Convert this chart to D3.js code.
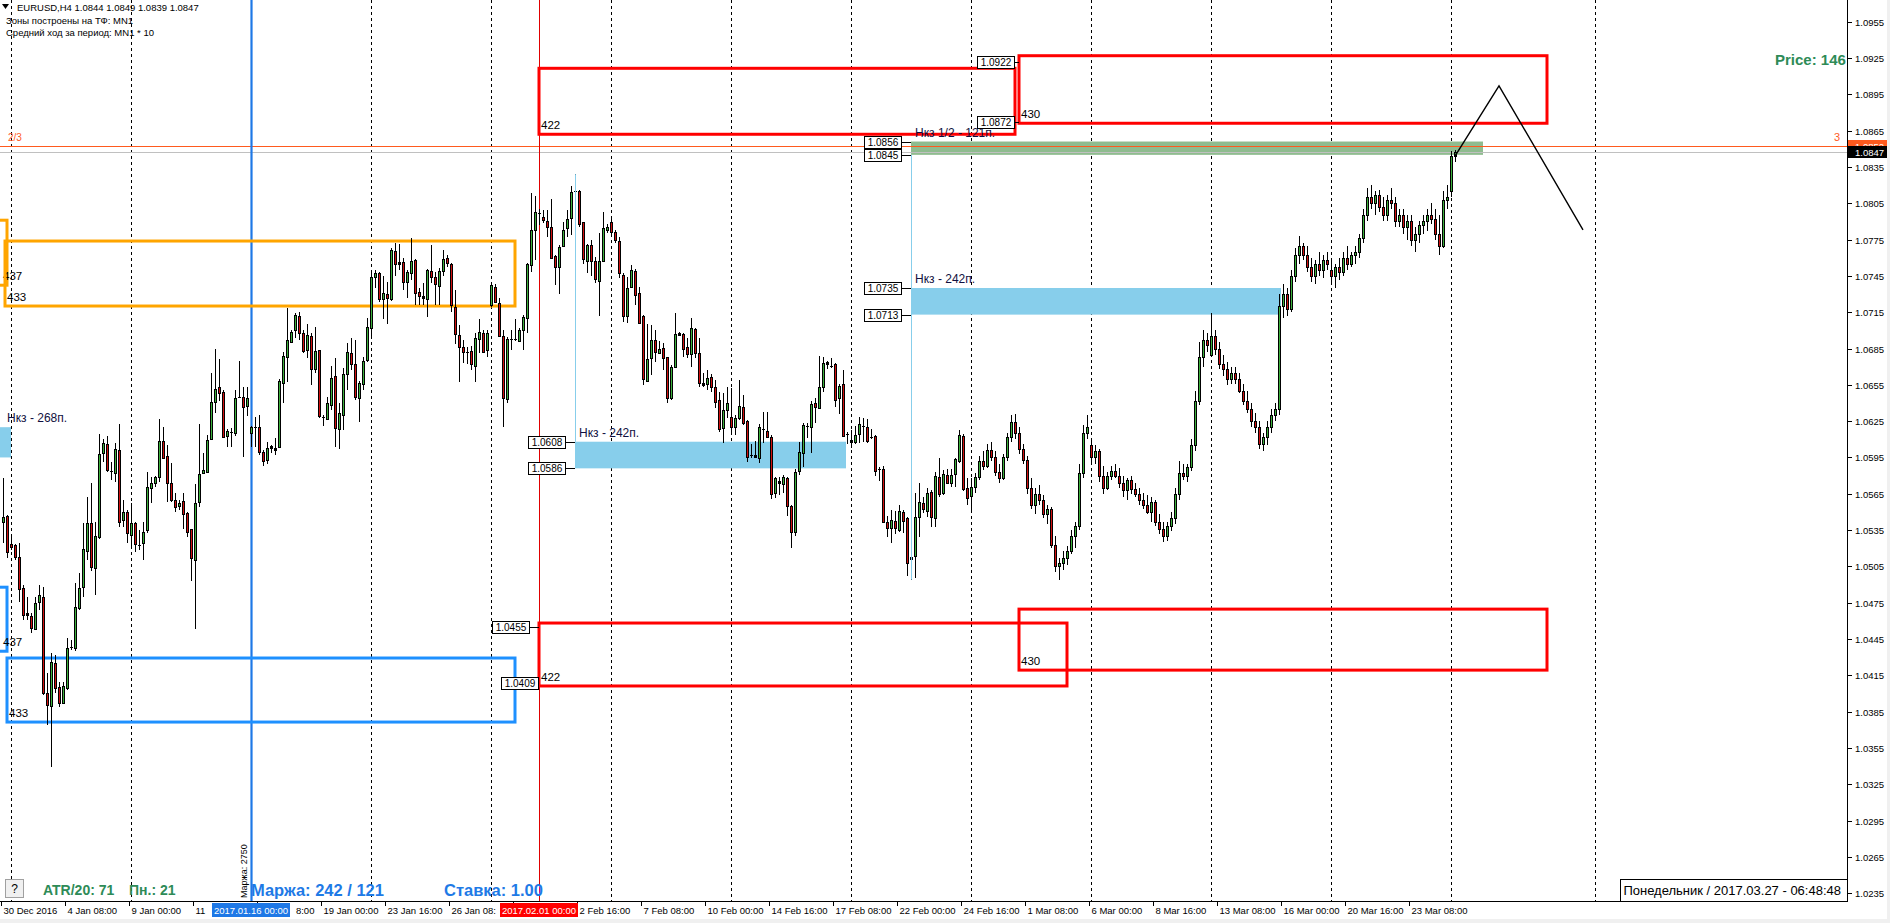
<!DOCTYPE html>
<html><head><meta charset="utf-8">
<script src="https://cdn.jsdelivr.net/npm/d3@7"></script>
<style>
body{margin:0;background:#fff;overflow:hidden}
text{font-family:"Liberation Sans",Arial,sans-serif}
</style>
</head><body>
<svg id="c" width="1890" height="923"></svg>
<script>
// ---------- DATA ----------
// H4 bars [open, high, low, close], bar 0 = 30 Dec 2016 16:00
const ohlc = [
[1.05420,1.05778,1.05240,1.05455],[1.05466,1.05475,1.05117,1.05172],[1.05232,1.05296,1.05185,1.05213],[1.05227,1.05235,1.05103,1.05130],
[1.05125,1.05240,1.04759,1.04860],[1.04869,1.04896,1.04607,1.04648],[1.04662,1.04800,1.04607,1.04648],[1.04640,1.04662,1.04497,1.04538],
[1.04530,1.04800,1.04524,1.04750],[1.04759,1.04896,1.04690,1.04811],[1.04800,1.04883,1.03988,1.04007],[1.04001,1.04167,1.03740,1.03905],
[1.03899,1.04337,1.03395,1.04263],[1.04255,1.04318,1.04001,1.04043],[1.04051,1.04098,1.03886,1.03924],[1.03919,1.04098,1.03913,1.04062],
[1.04048,1.04456,1.04029,1.04373],[1.04381,1.04442,1.04359,1.04385],[1.04373,1.04910,1.04354,1.04712],[1.04704,1.04993,1.04690,1.04869],
[1.04883,1.05406,1.04800,1.05191],[1.05180,1.05626,1.05103,1.05406],[1.05411,1.05742,1.05015,1.05042],[1.05034,1.05420,1.04814,1.05304],
[1.05290,1.06144,1.05274,1.05976],[1.05984,1.06100,1.05915,1.06067],[1.06058,1.06127,1.05833,1.05846],[1.05836,1.05915,1.05764,1.05830],
[1.05824,1.06067,1.05750,1.06017],[1.06012,1.06224,1.05378,1.05420],[1.05433,1.05599,1.05378,1.05497],[1.05502,1.05516,1.05240,1.05323],
[1.05309,1.05571,1.05199,1.05411],[1.05411,1.05420,1.05172,1.05235],[1.05227,1.05350,1.05185,1.05230],[1.05240,1.05420,1.05103,1.05337],
[1.05350,1.05833,1.05329,1.05703],[1.05695,1.05791,1.05571,1.05736],[1.05742,1.05797,1.05709,1.05786],[1.05791,1.06265,1.05750,1.06089],
[1.06086,1.06199,1.05935,1.05948],[1.05962,1.06053,1.05585,1.05742],[1.05736,1.05901,1.05585,1.05599],[1.05599,1.05654,1.05502,1.05543],
[1.05552,1.05599,1.05516,1.05577],[1.05593,1.05654,1.05356,1.05480],[1.05494,1.05502,1.05296,1.05337],[1.05356,1.05356,1.04932,1.05117],
[1.05103,1.05731,1.04530,1.05571],[1.05585,1.06226,1.05543,1.05813],[1.05824,1.05984,1.05813,1.05846],[1.05833,1.06136,1.05819,1.06094],
[1.06100,1.06650,1.06094,1.06411],[1.06411,1.06843,1.06315,1.06513],[1.06529,1.06761,1.06419,1.06480],[1.06491,1.06507,1.06108,1.06122],
[1.06127,1.06182,1.06039,1.06171],[1.06163,1.06191,1.06034,1.06163],[1.06155,1.06507,1.06127,1.06438],[1.06447,1.06747,1.06438,1.06447],
[1.06452,1.06529,1.05951,1.06364],[1.06375,1.06529,1.06292,1.06438],[1.06149,1.06210,1.06039,1.06199],[1.06204,1.06287,1.06039,1.06200],
[1.06199,1.06301,1.05970,1.05998],[1.05998,1.06010,1.05880,1.05920],[1.05930,1.06080,1.05900,1.06025],[1.06025,1.06053,1.05990,1.06044],
[1.06011,1.06108,1.05970,1.06025],[1.06033,1.06595,1.06025,1.06584],[1.06562,1.06824,1.06397,1.06788],[1.06777,1.07182,1.06576,1.06920],
[1.06907,1.07003,1.06893,1.06984],[1.07003,1.07141,1.06934,1.07127],[1.07119,1.07154,1.06920,1.06981],[1.06975,1.07003,1.06810,1.06832],
[1.06838,1.07052,1.06769,1.06962],[1.06956,1.06975,1.06549,1.06678],[1.06678,1.07030,1.06645,1.06829],[1.06835,1.06838,1.06273,1.06292],
[1.06281,1.06301,1.06210,1.06273],[1.06265,1.06452,1.06259,1.06397],[1.06383,1.06706,1.06342,1.06604],[1.06623,1.06769,1.06039,1.06196],
[1.06182,1.06397,1.06017,1.06314],[1.06301,1.06686,1.06177,1.06640],[1.06640,1.06893,1.06507,1.06818],[1.06810,1.06934,1.06672,1.06722],
[1.06722,1.06920,1.06425,1.06452],[1.06444,1.06584,1.06246,1.06568],[1.06554,1.06783,1.06507,1.06747],[1.06755,1.07099,1.06741,1.07025],
[1.07017,1.07485,1.06934,1.07444],[1.07444,1.07499,1.07347,1.07477],[1.07471,1.07485,1.07237,1.07262],[1.07256,1.07449,1.07091,1.07306],
[1.07298,1.07402,1.07052,1.07265],[1.07256,1.07678,1.07245,1.07664],[1.07656,1.07725,1.07449,1.07545],[1.07565,1.07714,1.07499,1.07545],
[1.07562,1.07595,1.07333,1.07397],[1.07402,1.07499,1.07265,1.07479],[1.07471,1.07760,1.07416,1.07573],[1.07581,1.07587,1.07210,1.07306],
[1.07317,1.07347,1.07210,1.07284],[1.07284,1.07388,1.07210,1.07265],[1.07256,1.07504,1.07108,1.07499],[1.07490,1.07705,1.07388,1.07444],
[1.07444,1.07485,1.07210,1.07380],[1.07369,1.07518,1.07210,1.07490],[1.07493,1.07664,1.07449,1.07587],[1.07595,1.07623,1.07526,1.07559],
[1.07545,1.07554,1.07154,1.07210],[1.07196,1.07333,1.06887,1.06967],[1.06962,1.07044,1.06576,1.06865],[1.06860,1.06920,1.06728,1.06818],
[1.06818,1.06865,1.06722,1.06815],[1.06829,1.06871,1.06672,1.06719],[1.06706,1.06975,1.06576,1.06934],[1.06926,1.07091,1.06810,1.06984],
[1.06975,1.07003,1.06810,1.06824],[1.06838,1.07003,1.06783,1.06975],[1.07210,1.07388,1.07196,1.07375],[1.07361,1.07383,1.07223,1.07237],
[1.07229,1.07265,1.06948,1.06956],[1.06953,1.07003,1.06199,1.06438],[1.06430,1.06948,1.06397,1.06926],[1.06929,1.07003,1.06838,1.06929],
[1.06929,1.07091,1.06915,1.06929],[1.06912,1.07017,1.06907,1.07003],[1.07003,1.07127,1.06838,1.07113],[1.07099,1.07554,1.06981,1.07545],
[1.07540,1.08132,1.07485,1.07829],[1.07829,1.08110,1.07581,1.07981],[1.07967,1.08000,1.07870,1.07961],[1.07939,1.07994,1.07884,1.07912],
[1.07903,1.07994,1.07774,1.07851],[1.07857,1.08082,1.07587,1.07595],[1.07614,1.07623,1.07375,1.07526],[1.07521,1.07705,1.07300,1.07686],
[1.07697,1.07898,1.07697,1.07829],[1.07843,1.07994,1.07774,1.07917],[1.07925,1.08193,1.07788,1.08146],[1.08154,1.08292,1.08138,1.08150],
[1.08151,1.08160,1.07857,1.07876],[1.07892,1.07898,1.07548,1.07587],[1.07576,1.07714,1.07471,1.07705],[1.07705,1.07747,1.07449,1.07576],
[1.07573,1.07603,1.07388,1.07422],[1.07411,1.07802,1.07121,1.07573],[1.07573,1.07981,1.07567,1.07843],[1.07829,1.07879,1.07802,1.07851],
[1.07898,1.07925,1.07788,1.07815],[1.07810,1.07829,1.07725,1.07747],[1.07738,1.07774,1.07430,1.07471],[1.07457,1.07471,1.07072,1.07121],
[1.07119,1.07444,1.07058,1.07347],[1.07355,1.07540,1.07347,1.07499],[1.07490,1.07504,1.07210,1.07292],[1.07306,1.07361,1.07052,1.07058],
[1.07121,1.07127,1.06549,1.06595],[1.06584,1.07052,1.06576,1.06761],[1.06769,1.07044,1.06631,1.06920],[1.06920,1.07003,1.06741,1.06824],
[1.06816,1.06915,1.06810,1.06843],[1.06851,1.06893,1.06672,1.06769],[1.06777,1.06783,1.06403,1.06438],[1.06438,1.06714,1.06425,1.06695],
[1.06700,1.07141,1.06686,1.06970],[1.06962,1.06989,1.06956,1.06981],[1.06970,1.06981,1.06783,1.06846],[1.06860,1.06934,1.06769,1.06805],
[1.06802,1.07099,1.06700,1.07017],[1.07008,1.07017,1.06769,1.06810],[1.06816,1.06934,1.06535,1.06562],[1.06562,1.06645,1.06535,1.06549],
[1.06557,1.06672,1.06507,1.06604],[1.06617,1.06640,1.06494,1.06535],[1.06535,1.06590,1.06356,1.06411],[1.06425,1.06494,1.06163,1.06182],
[1.06191,1.06480,1.06072,1.06342],[1.06342,1.06529,1.06273,1.06397],[1.06287,1.06521,1.06149,1.06204],[1.06199,1.06301,1.06135,1.06273],
[1.06279,1.06590,1.06259,1.06375],[1.06364,1.06466,1.06218,1.06232],[1.06251,1.06259,1.05915,1.05951],[1.05970,1.06061,1.05943,1.05965],
[1.05970,1.06089,1.05943,1.05951],[1.05943,1.06226,1.05901,1.06199],[1.06182,1.06328,1.06067,1.06177],[1.06169,1.06328,1.06108,1.06122],
[1.06122,1.06135,1.05604,1.05645],[1.05654,1.05791,1.05612,1.05778],[1.05758,1.05791,1.05640,1.05736],[1.05731,1.05805,1.05654,1.05786],
[1.05778,1.05791,1.05466,1.05552],[1.05549,1.05557,1.05199,1.05331],[1.05337,1.05852,1.05304,1.05832],[1.05841,1.06080,1.05805,1.05992],
[1.05984,1.06237,1.05874,1.06218],[1.06204,1.06237,1.06108,1.06210],[1.06199,1.06419,1.05989,1.06389],[1.06397,1.06438,1.06232,1.06364],
[1.06356,1.06788,1.06347,1.06529],[1.06535,1.06783,1.06493,1.06727],[1.06719,1.06750,1.06678,1.06736],[1.06705,1.06769,1.06686,1.06705],
[1.06719,1.06733,1.06364,1.06425],[1.06438,1.06557,1.06309,1.06543],[1.06554,1.06672,1.06122,1.06130],[1.06141,1.06163,1.06061,1.06135],
[1.06075,1.06177,1.06025,1.06094],[1.06080,1.06210,1.06061,1.06135],[1.06141,1.06287,1.06067,1.06224],[1.06210,1.06273,1.06080,1.06204],
[1.06199,1.06265,1.06072,1.06089],[1.06116,1.06182,1.06100,1.06111],[1.06127,1.06135,1.05800,1.05841],[1.05852,1.05874,1.05758,1.05846],
[1.05852,1.05882,1.05411,1.05417],[1.05417,1.05466,1.05290,1.05364],[1.05370,1.05516,1.05246,1.05433],[1.05425,1.05510,1.05318,1.05364],
[1.05351,1.05557,1.05337,1.05508],[1.05496,1.05516,1.05323,1.05428],[1.05447,1.05461,1.04970,1.05081],[1.05125,1.05136,1.04938,1.05114],
[1.05138,1.05654,1.04951,1.05455],[1.05461,1.05736,1.05290,1.05585],[1.05571,1.05626,1.05494,1.05521],[1.05510,1.05695,1.05461,1.05659],
[1.05662,1.05681,1.05373,1.05461],[1.05452,1.05832,1.05373,1.05797],[1.05786,1.05943,1.05626,1.05648],[1.05659,1.05846,1.05640,1.05811],
[1.05805,1.05852,1.05731,1.05742],[1.05736,1.05852,1.05703,1.05805],[1.05811,1.05943,1.05703,1.05934],[1.05923,1.06177,1.05901,1.06135],
[1.06127,1.06144,1.05676,1.05687],[1.05695,1.05778,1.05557,1.05612],[1.05634,1.05778,1.05494,1.05703],
[1.05703,1.05820,1.05660,1.05790],[1.05790,1.05960,1.05760,1.05920],[1.05920,1.06000,1.05850,1.05880],[1.05880,1.06060,1.05860,1.06010],
[1.06010,1.06080,1.05920,1.05950],[1.05950,1.06000,1.05800,1.05830],[1.05830,1.05900,1.05740,1.05780],[1.05780,1.05980,1.05760,1.05950],
[1.05950,1.06150,1.05920,1.06120],[1.06120,1.06300,1.06080,1.06240],[1.06240,1.06310,1.06100,1.06150],[1.06150,1.06200,1.05980,1.06020],
[1.06020,1.06060,1.05900,1.05930],[1.05930,1.05960,1.05650,1.05700],[1.05700,1.05780,1.05520,1.05560],[1.05560,1.05700,1.05480,1.05650],
[1.05650,1.05720,1.05560,1.05600],[1.05600,1.05640,1.05450,1.05480],[1.05480,1.05560,1.05400,1.05520],[1.05520,1.05540,1.05200,1.05230],
[1.05230,1.05300,1.05000,1.05050],[1.05050,1.05120,1.04940,1.05080],[1.05080,1.05180,1.05020,1.05120],[1.05120,1.05220,1.05060,1.05180],
[1.05180,1.05350,1.05150,1.05300],[1.05300,1.05420,1.05200,1.05380],[1.05380,1.05900,1.05350,1.05820],[1.05820,1.06220,1.05780,1.06150],
[1.06150,1.06300,1.06100,1.06200],[1.06050,1.06100,1.05900,1.05950],[1.05950,1.06050,1.05900,1.06000],[1.06000,1.06020,1.05750,1.05800],
[1.05800,1.05880,1.05650,1.05700],[1.05700,1.05830,1.05680,1.05800],[1.05800,1.05880,1.05760,1.05840],[1.05840,1.05900,1.05780,1.05800],
[1.05800,1.05860,1.05700,1.05740],[1.05740,1.05800,1.05620,1.05680],[1.05680,1.05780,1.05600,1.05760],[1.05760,1.05800,1.05650,1.05690],
[1.05690,1.05740,1.05620,1.05650],[1.05650,1.05700,1.05560,1.05600],[1.05600,1.05660,1.05520,1.05560],[1.05560,1.05640,1.05480,1.05500],
[1.05500,1.05620,1.05420,1.05580],[1.05580,1.05600,1.05380,1.05420],[1.05420,1.05480,1.05320,1.05360],[1.05360,1.05420,1.05250,1.05300],
[1.05300,1.05420,1.05260,1.05380],[1.05380,1.05500,1.05340,1.05450],[1.05450,1.05700,1.05400,1.05650],[1.05650,1.05920,1.05600,1.05820],
[1.05820,1.05900,1.05760,1.05800],[1.05800,1.05900,1.05750,1.05870],[1.05870,1.06100,1.05840,1.06050],[1.06050,1.06500,1.06000,1.06420],
[1.06420,1.06900,1.06380,1.06780],[1.06780,1.07000,1.06700,1.06920],[1.06920,1.06980,1.06820,1.06880],[1.06800,1.07140,1.06780,1.06950],
[1.06950,1.07000,1.06800,1.06850],[1.06850,1.06900,1.06680,1.06720],[1.06720,1.06800,1.06620,1.06680],[1.06680,1.06740,1.06550,1.06600],
[1.06600,1.06700,1.06560,1.06650],[1.06650,1.06700,1.06560,1.06600],[1.06600,1.06650,1.06480,1.06500],[1.06500,1.06560,1.06380,1.06420],
[1.06420,1.06500,1.06320,1.06350],[1.06350,1.06400,1.06200,1.06250],[1.06250,1.06320,1.06150,1.06200],[1.06200,1.06250,1.06020,1.06060],
[1.06060,1.06150,1.06000,1.06120],[1.06120,1.06250,1.06050,1.06200],[1.06200,1.06350,1.06150,1.06300],[1.06300,1.06400,1.06250,1.06350],
[1.06350,1.07300,1.06300,1.07200],[1.07200,1.07380,1.07100,1.07300],[1.07300,1.07350,1.07120,1.07180],[1.07180,1.07500,1.07150,1.07450],
[1.07450,1.07680,1.07400,1.07620],[1.07620,1.07780,1.07550,1.07700],[1.07700,1.07720,1.07580,1.07620],[1.07620,1.07700,1.07480,1.07520],
[1.07520,1.07600,1.07400,1.07450],[1.07450,1.07580,1.07380,1.07550],[1.07550,1.07650,1.07450,1.07500],[1.07500,1.07620,1.07430,1.07580],
[1.07580,1.07650,1.07500,1.07550],[1.07500,1.07600,1.07400,1.07450],[1.07450,1.07550,1.07350,1.07520],[1.07520,1.07600,1.07420,1.07480],
[1.07480,1.07650,1.07450,1.07600],[1.07600,1.07700,1.07500,1.07550],[1.07550,1.07650,1.07520,1.07620],[1.07620,1.07700,1.07550,1.07650],
[1.07650,1.07800,1.07600,1.07760],[1.07760,1.08000,1.07720,1.07950],[1.07950,1.08180,1.07900,1.08100],[1.08100,1.08200,1.08000,1.08050],
[1.08050,1.08150,1.07950,1.08120],[1.08120,1.08160,1.07980,1.08020],[1.08020,1.08100,1.07900,1.07950],[1.07950,1.08120,1.07900,1.08080],
[1.08080,1.08180,1.08000,1.08050],[1.08050,1.08100,1.07850,1.07900],[1.07900,1.08000,1.07850,1.07950],[1.07950,1.08000,1.07800,1.07850],
[1.07850,1.07950,1.07750,1.07900],[1.07900,1.07950,1.07700,1.07750],[1.07750,1.07850,1.07650,1.07800],[1.07800,1.07900,1.07720,1.07870],
[1.07870,1.07950,1.07800,1.07900],[1.07900,1.08000,1.07820,1.07950],[1.07950,1.08050,1.07880,1.07920],[1.07920,1.08000,1.07750,1.07800],
[1.07800,1.07950,1.07620,1.07700],[1.07700,1.08150,1.07680,1.08080],[1.08080,1.08200,1.08000,1.08100],[1.08150,1.08480,1.08100,1.08440],
[1.08440,1.08490,1.08390,1.08470]
];
const timeLabels = ["30 Dec 2016","4 Jan 08:00","9 Jan 00:00","11 Jan 16:00","16 Jan 08:00","19 Jan 00:00","23 Jan 16:00",
 "26 Jan 08:00","31 Jan 00:00","2 Feb 16:00","7 Feb 08:00","10 Feb 00:00","14 Feb 16:00","17 Feb 08:00","22 Feb 00:00",
 "24 Feb 16:00","1 Mar 08:00","6 Mar 00:00","8 Mar 16:00","13 Mar 08:00","16 Mar 00:00","20 Mar 16:00","23 Mar 08:00"];
const barsPerLabel = 16;
const priceTicks = [1.0955,1.0925,1.0895,1.0865,1.0835,1.0805,1.0775,1.0745,1.0715,1.0685,1.0655,1.0625,1.0595,
 1.0565,1.0535,1.0505,1.0475,1.0445,1.0415,1.0385,1.0355,1.0325,1.0295,1.0265,1.0235];
const weekGridBars = [2,32,62,92,122,152,182,212,242,272,302,332,362,398];
const redZones = [
 {from:134,to:253,top:1.09165,bottom:1.08620,label:"422"},
 {from:254,to:386,top:1.09269,bottom:1.08711,label:"430"},
 {from:134,to:266,top:1.04582,bottom:1.04062,label:"422"},
 {from:254,to:386,top:1.04697,bottom:1.04193,label:"430"}];
const orangeZones = [{from:-6,to:1,top:1.0791,bottom:1.07373,label:"437"},{from:0.5,to:128,top:1.07738,bottom:1.07201,label:"433"}];
const blueZones = [{from:-6,to:1,top:1.04878,bottom:1.04349,label:"437"},{from:1,to:128,top:1.04293,bottom:1.03764,label:"433"}];
const skyBands = [
 {from:-6,to:2,top:1.0620,bottom:1.0595,text:"Нкз - 268п."},
 {from:143,to:210.75,top:1.0608,bottom:1.0586,text:"Нкз - 242п."},
 {from:227,to:319.5,top:1.0735,bottom:1.0713,text:"Нкз - 242п."}];
const greenBand = {from:227,to:370,top:1.0856,bottom:1.0845,text:"Нкз 1/2 - 121п."};
const zigzag = [[363,1.0844],[374,1.0902],[395,1.0783]];
const measureLines = [{bar:143,p1:1.0829,p2:1.0608},{bar:227,p1:1.0845,p2:1.0494}];
const levelLine = 1.08523, bid = 1.0847;
const blueLineBar = 62, redLineBar = 134;

// ---------- SCALES ----------
const W=1890,H=923, plotR=1847, plotB=901;
const y = d3.scaleLinear().domain([1.0235,1.0955]).range([893.2,21.7]);
const x = d3.scaleLinear().domain([0,1]).range([3,7]);
const svg = d3.select("#c");
svg.append("rect").attr("width",W).attr("height",H).attr("fill","#fff");
svg.append("defs").append("clipPath").attr("id","plot").append("rect").attr("x",0).attr("y",0).attr("width",plotR).attr("height",plotB);
const g = svg.append("g").attr("clip-path","url(#plot)");

g.selectAll(".vg").data(weekGridBars).enter().append("line")
 .attr("x1",d=>Math.round(x(d))+0.5).attr("x2",d=>Math.round(x(d))+0.5).attr("y1",0).attr("y2",plotB)
 .attr("stroke","#000").attr("stroke-dasharray","3,3").attr("stroke-width",1);

function band(b,color){
  g.append("rect").attr("x",x(b.from)).attr("y",y(b.top)).attr("width",x(b.to)-x(b.from)).attr("height",y(b.bottom)-y(b.top)).attr("fill",color);
}
skyBands.forEach(b=>band(b,"#87CEEB"));
band(greenBand,"#8FBC8F");

g.append("line").attr("x1",0).attr("x2",plotR).attr("y1",Math.round(y(levelLine))+0.5).attr("y2",Math.round(y(levelLine))+0.5).attr("stroke","#FF5A1E").attr("stroke-width",1);
g.append("line").attr("x1",0).attr("x2",plotR).attr("y1",Math.round(y(bid))+0.5).attr("y2",Math.round(y(bid))+0.5).attr("stroke","#C0C0C0").attr("stroke-width",1);

g.append("line").attr("x1",Math.round(x(blueLineBar))+0.5).attr("x2",Math.round(x(blueLineBar))+0.5).attr("y1",0).attr("y2",plotB).attr("stroke","#1E78E6").attr("stroke-width",2.2);
g.append("line").attr("x1",Math.round(x(redLineBar))+0.5).attr("x2",Math.round(x(redLineBar))+0.5).attr("y1",0).attr("y2",plotB).attr("stroke","#E00000").attr("stroke-width",1);

function zone(z,color){
  g.append("rect").attr("x",x(z.from)).attr("y",y(z.top)).attr("width",x(z.to)-x(z.from)).attr("height",y(z.bottom)-y(z.top))
   .attr("fill","none").attr("stroke",color).attr("stroke-width",3);
  g.append("text").attr("x",Math.max(x(z.from),1)+2).attr("y",y(z.bottom)-5).attr("font-size",11.5).attr("fill","#000").text(z.label);
}
orangeZones.forEach(z=>zone(z,"#FFA500"));
blueZones.forEach(z=>zone(z,"#1E90FF"));
redZones.forEach(z=>zone(z,"#FF0000"));

const cg = g.append("g");
ohlc.forEach((d,i)=>{
  const [o,h,l,c]=d; const cx=Math.round(x(i));
  cg.append("rect").attr("x",cx).attr("y",Math.round(y(h))).attr("width",1).attr("height",Math.max(1,Math.round(y(l))-Math.round(y(h)))).attr("fill","#000");
  const t=Math.round(y(Math.max(o,c))), b=Math.round(y(Math.min(o,c)));
  const hh=Math.max(1,b-t);
  cg.append("rect").attr("x",cx-1).attr("y",t).attr("width",3).attr("height",hh+(hh>1?1:0)).attr("fill","#000");
  if(hh>2) cg.append("rect").attr("x",cx).attr("y",t+1).attr("width",1).attr("height",hh-1).attr("fill",c>=o?"#3CB03C":"#D01010");
});

measureLines.forEach(m=>{
  g.append("line").attr("x1",Math.round(x(m.bar))+0.5).attr("x2",Math.round(x(m.bar))+0.5).attr("y1",y(m.p1)).attr("y2",y(m.p2)).attr("stroke","#87CEEB").attr("stroke-width",1);
});

function priceBox(px,pr,lineTo){
  const yy=Math.round(y(pr))+0.5;
  g.append("line").attr("x1",px+37).attr("x2",lineTo).attr("y1",yy).attr("y2",yy).attr("stroke","#000");
  g.append("rect").attr("x",px+0.5).attr("y",yy-6).attr("width",37).attr("height",12).attr("fill","#fff").attr("stroke","#000");
  g.append("text").attr("x",px+19).attr("y",yy+3.5).attr("text-anchor","middle").attr("font-size",10).text(pr.toFixed(4));
}
skyBands.concat([greenBand]).forEach(b=>{
  g.append("text").attr("x",Math.max(x(b.from),3)+4).attr("y",y(b.top)-5).attr("font-size",12).attr("fill","#101040").text(b.text);
});
[skyBands[1],skyBands[2],greenBand].forEach(b=>{
  const lx=x(b.from)-47; priceBox(lx,b.top,x(b.from)); priceBox(lx,b.bottom,x(b.from));
});
priceBox(977,1.0922,x(redZones[1].from));
priceBox(977,1.0872,x(redZones[1].from));
priceBox(492,1.0455,x(redZones[2].from));
priceBox(501,1.0409,x(redZones[2].from));

g.append("path").attr("d",d3.line().x(d=>x(d[0])).y(d=>y(d[1]))(zigzag)).attr("fill","none").attr("stroke","#000").attr("stroke-width",1.4);

g.append("text").attr("x",8).attr("y",y(levelLine)-5).attr("font-size",10).attr("fill","#FF5A1E").text("2/3");
g.append("text").attr("x",1834).attr("y",y(levelLine)-5).attr("font-size",11).attr("fill","#FF5A1E").text("3");
g.append("text").attr("x",1775).attr("y",65).attr("font-size",15).attr("font-weight","bold").attr("fill","#2E8B57").text("Price: 146");
const tl = g.append("g").attr("font-size",9.5).attr("fill","#000");
tl.append("path").attr("d","M2,4 L9,4 L5.5,9 Z").attr("fill","#000");
tl.append("text").attr("x",17).attr("y",11).text("EURUSD,H4  1.0844 1.0849 1.0839 1.0847");
tl.append("text").attr("x",6).attr("y",24).text("Зоны построены на ТФ: MN1");
tl.append("text").attr("x",6).attr("y",36).text("Средний ход за период: MN1 * 10");

g.append("rect").attr("x",5.5).attr("y",879.5).attr("width",18).attr("height",18).attr("fill","#F0F0F0").attr("stroke","#A0A0A0");
g.append("text").attr("x",14.5).attr("y",893).attr("text-anchor","middle").attr("font-size",12).text("?");
g.append("text").attr("x",43).attr("y",895).attr("font-size",14).attr("font-weight","bold").attr("fill","#2E8B57").text("ATR/20: 71");
g.append("text").attr("x",129).attr("y",895).attr("font-size",14).attr("font-weight","bold").attr("fill","#2E8B57").text("Пн.: 21");
g.append("text").attr("x",251).attr("y",896).attr("font-size",16.5).attr("font-weight","bold").attr("fill","#1E7AE6").text("Маржа: 242 / 121");
g.append("text").attr("x",444).attr("y",896).attr("font-size",16.5).attr("font-weight","bold").attr("fill","#1E7AE6").text("Ставка: 1.00");
g.append("text").attr("transform","translate(247,898) rotate(-90)").attr("font-size",9).text("Маржа: 2750");
g.append("rect").attr("x",1620.5).attr("y",879.5).attr("width",228).attr("height",22).attr("fill","#fff").attr("stroke","#000");
g.append("text").attr("x",1841).attr("y",895).attr("text-anchor","end").attr("font-size",13).text("Понедельник / 2017.03.27 - 06:48:48");

// axes
svg.append("line").attr("x1",plotR+0.5).attr("x2",plotR+0.5).attr("y1",0).attr("y2",plotB+1).attr("stroke","#000");
svg.append("line").attr("x1",0).attr("x2",plotR+1).attr("y1",plotB+0.5).attr("y2",plotB+0.5).attr("stroke","#000");
const ya = svg.append("g");
priceTicks.forEach(p=>{
  const yy=Math.round(y(p))+0.5;
  ya.append("line").attr("x1",plotR).attr("x2",plotR+5).attr("y1",yy).attr("y2",yy).attr("stroke","#000");
  ya.append("text").attr("x",plotR+8).attr("y",yy+3.5).attr("font-size",9.5).text(p.toFixed(4));
});
const ly=Math.round(y(levelLine)), by=Math.round(y(bid));
ya.append("rect").attr("x",plotR+1).attr("y",ly-6).attr("width",41).attr("height",12).attr("fill","#FF5A1E");
ya.append("text").attr("x",plotR+8).attr("y",ly+3.5).attr("font-size",9.5).attr("fill","#fff").text(levelLine.toFixed(4));
ya.append("rect").attr("x",plotR+1).attr("y",by-6).attr("width",41).attr("height",12).attr("fill","#000");
ya.append("text").attr("x",plotR+8).attr("y",by+3.5).attr("font-size",9.5).attr("fill","#fff").text(bid.toFixed(4));

// time axis: labels hidden behind the two date boxes are shortened to their visible part
const dateBoxes = [{bar:blueLineBar,txt:"2017.01.16 00:00",color:"#1E78E6"},{bar:redLineBar,txt:"2017.02.01 00:00",color:"#FF0000"}];
const boxSpan = b=>[x(b.bar)-39, x(b.bar)+39];
const xa = svg.append("g");
timeLabels.forEach((t,k)=>{
  const xx=Math.round(x(k*barsPerLabel))-1.5;
  xa.append("line").attr("x1",xx).attr("x2",xx).attr("y1",plotB).attr("y2",plotB+5).attr("stroke","#000");
  const tx = xa.append("text").attr("x",xx+2).attr("y",914).attr("font-size",9.5).text(t);
  let s=t, start=xx+2, w=tx.node().getComputedTextLength();
  const endX = start+w;
  dateBoxes.forEach(b=>{
    const [l,r]=boxSpan(b);
    if(start<l && start+w>l){ while(s.length && start+tx.node().getComputedTextLength()>l-1){ s=s.slice(0,-1); tx.text(s);} }
    else if(start>=l && start<r){
      while(s.length){ const ww=tx.node().getComputedTextLength(); if(endX-ww>=r+1) break; s=s.slice(1); tx.text(s);} 
      if(s.length) tx.attr("x",endX-tx.node().getComputedTextLength());
    }
  });
  if(!s.trim().length) tx.remove();
});
dateBoxes.forEach(b=>{
  const cx=x(b.bar);
  xa.append("rect").attr("x",cx-39).attr("y",903).attr("width",78).attr("height",14).attr("fill",b.color);
  xa.append("text").attr("x",cx).attr("y",914).attr("text-anchor","middle").attr("font-size",9.5).attr("fill","#fff").text(b.txt);
});
svg.append("rect").attr("x",0).attr("y",919).attr("width",W).attr("height",4).attr("fill","#F0F0F0");
svg.append("rect").attr("x",1887).attr("y",0).attr("width",3).attr("height",H).attr("fill","#F0F0F0");
</script>
</body></html>
